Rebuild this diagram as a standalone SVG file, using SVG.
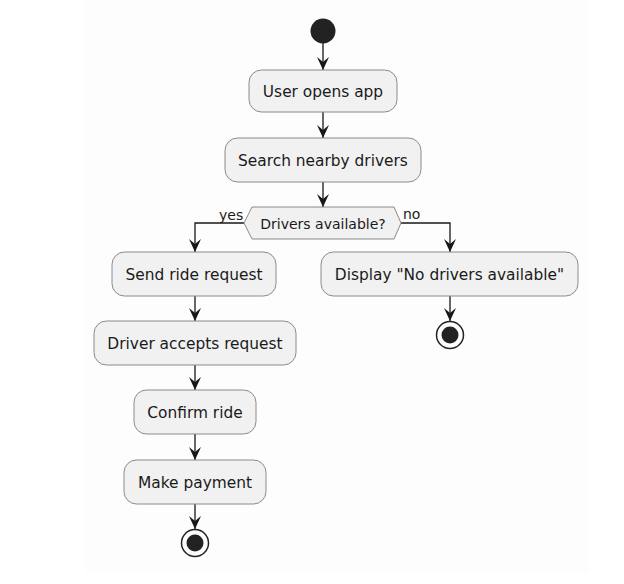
<svg xmlns="http://www.w3.org/2000/svg" width="624" height="584" viewBox="0 0 624 584">
  <style>
    .box { fill: #F1F1F1; stroke: #8a8a8a; stroke-width: 1; }
    .lbl { font-family: "DejaVu Sans", "Liberation Sans", sans-serif; font-size: 15.4px; fill: #1a1a1a; text-anchor: middle; }
    .dlbl { font-family: "DejaVu Sans", "Liberation Sans", sans-serif; font-size: 14px; fill: #1a1a1a; text-anchor: middle; }
    .edge { fill: none; stroke: #181818; stroke-width: 1.3; }
    .elbl { font-family: "DejaVu Sans", "Liberation Sans", sans-serif; font-size: 14px; fill: #1a1a1a; }
  </style>
  <defs>
    <marker id="arrow" markerUnits="userSpaceOnUse" viewBox="-14 -7 15 14" refX="0" refY="0" markerWidth="15" markerHeight="14" orient="auto">
      <path d="M0,0 L-13,-6 L-8,0 L-13,6 Z" fill="#181818"/>
    </marker>
  </defs>
  <rect x="0" y="0" width="624" height="584" fill="#ffffff"/>
  <rect x="85" y="0" width="503" height="572" fill="#fdfdfd"/>

  <g id="connectors">
    <line class="edge" x1="323" y1="43" x2="323" y2="70" marker-end="url(#arrow)"/>
    <line class="edge" x1="323" y1="112" x2="323" y2="138" marker-end="url(#arrow)"/>
    <line class="edge" x1="323" y1="182" x2="323" y2="207" marker-end="url(#arrow)"/>
    <path class="edge" d="M244,223 H195 V252" marker-end="url(#arrow)"/>
    <text class="elbl" x="219" y="220">yes</text>
    <path class="edge" d="M401,223 H450 V252" marker-end="url(#arrow)"/>
    <text class="elbl" x="403" y="219">no</text>
    <line class="edge" x1="195" y1="296" x2="195" y2="321" marker-end="url(#arrow)"/>
    <line class="edge" x1="195" y1="365" x2="195" y2="390" marker-end="url(#arrow)"/>
    <line class="edge" x1="195" y1="434" x2="195" y2="460" marker-end="url(#arrow)"/>
    <line class="edge" x1="195" y1="504" x2="195" y2="529" marker-end="url(#arrow)"/>
    <line class="edge" x1="450" y1="296" x2="450" y2="321" marker-end="url(#arrow)"/>
  </g>

  <g id="start">
    <circle cx="323" cy="31" r="12.5" fill="#222222"/>
  </g>
  <g id="user-opens-app">
    <rect class="box" x="249" y="70" width="148" height="42" rx="12.5"/>
    <text class="lbl" x="323" y="96.5">User opens app</text>
  </g>
  <g id="search-nearby-drivers">
    <rect class="box" x="225" y="138" width="196" height="44" rx="12.5"/>
    <text class="lbl" x="323" y="165.5">Search nearby drivers</text>
  </g>
  <g id="drivers-available">
    <polygon class="box" points="244,223 252,207 394,207 401,223 394,239 252,239"/>
    <text class="dlbl" x="323" y="228.5">Drivers available?</text>
  </g>
  <g id="send-ride-request">
    <rect class="box" x="112" y="252" width="164" height="44" rx="12.5"/>
    <text class="lbl" x="194" y="279.5">Send ride request</text>
  </g>
  <g id="display-no-drivers">
    <rect class="box" x="321" y="252" width="257" height="44" rx="12.5"/>
    <text class="lbl" x="449.5" y="279.5">Display "No drivers available"</text>
  </g>
  <g id="end-no">
    <circle cx="450" cy="335" r="13.5" fill="none" stroke="#222222" stroke-width="1.5"/>
    <circle cx="450" cy="335" r="8.5" fill="#222222"/>
  </g>
  <g id="driver-accepts-request">
    <rect class="box" x="94" y="321" width="202" height="44" rx="12.5"/>
    <text class="lbl" x="195" y="348.5">Driver accepts request</text>
  </g>
  <g id="confirm-ride">
    <rect class="box" x="134" y="390" width="122" height="44" rx="12.5"/>
    <text class="lbl" x="195" y="417.5">Confirm ride</text>
  </g>
  <g id="make-payment">
    <rect class="box" x="124" y="460" width="142" height="44" rx="12.5"/>
    <text class="lbl" x="195" y="487.5">Make payment</text>
  </g>
  <g id="end-yes">
    <circle cx="195" cy="543" r="13.5" fill="none" stroke="#222222" stroke-width="1.5"/>
    <circle cx="195" cy="543" r="8.5" fill="#222222"/>
  </g>
</svg>
